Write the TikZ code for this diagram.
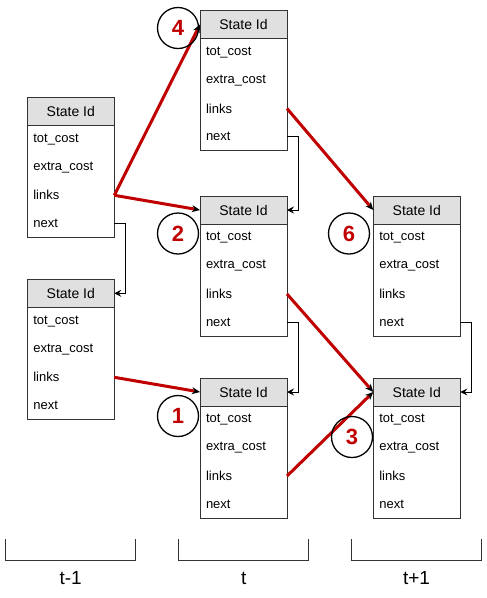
\documentclass[tikz,border=0pt]{standalone}
\usepackage{fontspec}
\setmainfont{Liberation Sans}
\usetikzlibrary{arrows.meta,calc}
\definecolor{hdr}{HTML}{E0E0E0}
\definecolor{brd}{HTML}{333333}
\definecolor{dred}{HTML}{C00000}
\tikzset{
  hdrbox/.style={draw=brd, fill=hdr, line width=1pt, minimum width=87pt, minimum height=28pt, inner sep=0pt, outer sep=0pt, font=\fontsize{14}{16}\selectfont},
  rowbox/.style={minimum height=28pt, text width=75pt, inner xsep=6pt, inner ysep=0pt, outer sep=0pt, align=left, font=\fontsize{13}{15}\selectfont},
  nextarr/.style={draw=black, line width=0.9pt, -{Stealth[length=7pt,width=7pt,inset=2.5pt]}},
  redarr/.style={draw=dred, line width=3pt, -{Stealth[length=8pt,width=7pt,inset=2.5pt,color=black]}},
  numc/.style={circle, draw=black, line width=1.3pt, minimum size=41pt, inner sep=0pt, text=dred, font=\fontsize{22}{24}\selectfont\bfseries},
  lbl/.style={font=\fontsize{19}{22}\selectfont, inner sep=0pt},
  brk/.style={draw=brd, line width=1pt}
}
\newcommand{\stbl}[3]{%
  \node[hdrbox, anchor=north west] (#1-h) at (#2,#3) {State Id};
  \node[rowbox, anchor=north] (#1-t) at (#1-h.south) {tot\_cost};
  \node[rowbox, anchor=north] (#1-e) at (#1-t.south) {extra\_cost};
  \node[rowbox, anchor=north] (#1-l) at (#1-e.south) {links};
  \node[rowbox, anchor=north] (#1-n) at (#1-l.south) {next};
  \draw[draw=brd, line width=1pt] (#1-t.north west) rectangle (#1-n.south east);
}
\begin{document}
\begin{tikzpicture}[x=1pt,y=-1pt]
\useasboundingbox[fill=white] (0,0) rectangle (487,598);
\stbl{L1}{27.3}{97.3}
\stbl{L2}{27.3}{279.3}
\stbl{M1}{200}{10.5}
\stbl{M2}{200}{196}
\stbl{M3}{200}{378}
\stbl{R1}{373.3}{196}
\stbl{R2}{373.3}{378}
% next pointers
\draw[nextarr] (L1-n.east) -- ++(11,0) |- (L2-h.east);
\draw[nextarr] (M1-n.east) -- ++(11,0) |- (M2-h.east);
\draw[nextarr] (M2-n.east) -- ++(11,0) |- (M3-h.east);
\draw[nextarr] (R1-n.east) -- ++(11,0) |- (R2-h.east);
% red links
\draw[redarr] (L1-l.east) -- (M1-h.west);
\draw[redarr] (L1-l.east) -- (M2-h.west);
\draw[redarr] (L2-l.east) -- (M3-h.west);
\draw[redarr] (M1-l.east) -- (R1-h.west);
\draw[redarr] (M2-l.east) -- (R2-h.west);
\draw[redarr] (M3-l.east) -- (R2-h.west);
% numbered circles
\node[numc] (c4) at (178,28) {4};
\node[numc] (c2) at (178,233.5) {2};
\node[numc] (c6) at (349,233.5) {6};
\node[numc] (c1) at (178,416) {1};
\node[numc] (c3) at (352,437) {3};
% brackets
\draw[brk] (5.7,539) -- (5.7,560.7) -- (135.7,560.7) -- (135.7,539);
\draw[brk] (178.7,539) -- (178.7,560.7) -- (308.7,560.7) -- (308.7,539);
\draw[brk] (351.7,539) -- (351.7,560.7) -- (481.3,560.7) -- (481.3,539);
\node[lbl] (tm) at (70.7,578) {t-1};
\node[lbl] (tt) at (243.7,578) {t};
\node[lbl] (tp) at (416.5,578) {t+1};
\end{tikzpicture}
\end{document}
